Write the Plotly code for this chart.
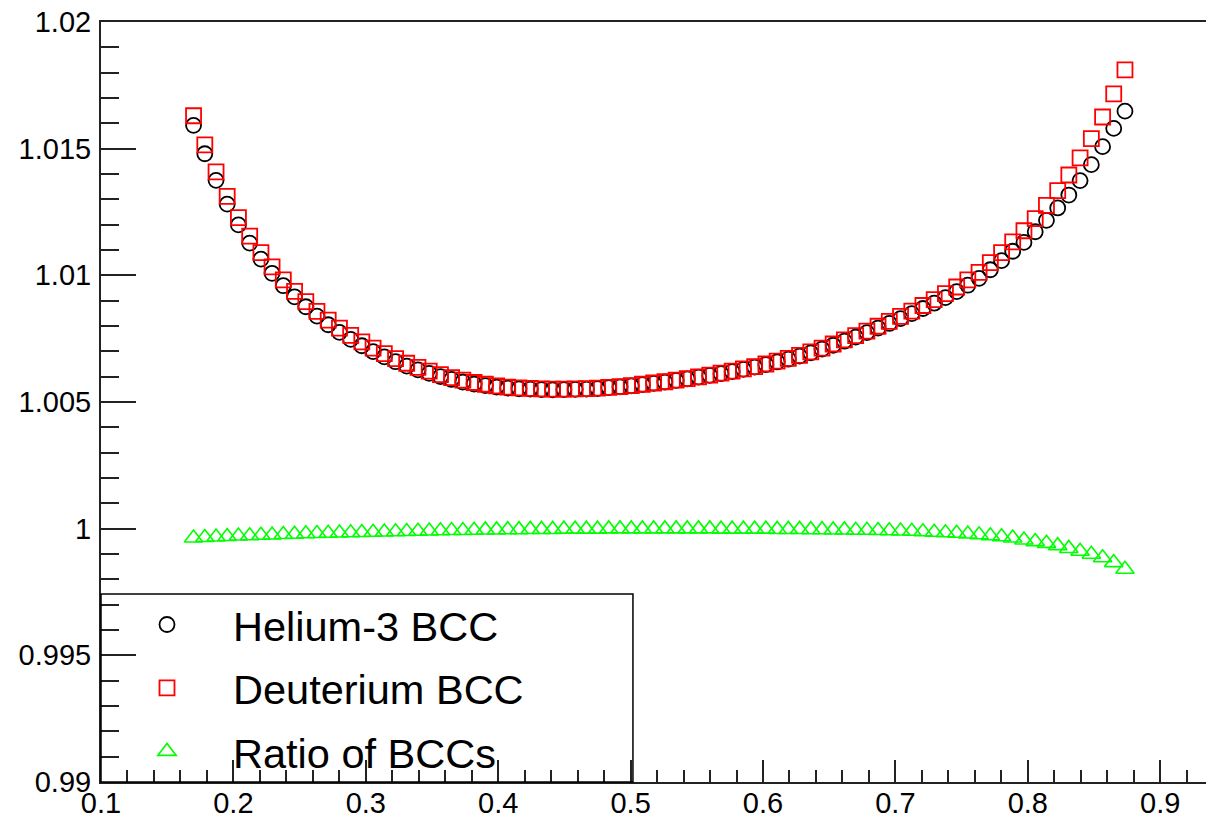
import plotly.graph_objects as go

# ---- data ----
x_vals = [0.1699, 0.1784, 0.1869, 0.1953, 0.2038, 0.2123, 0.2208, 0.2292, 0.2377, 0.2462,
          0.2547, 0.2631, 0.2716, 0.2801, 0.2886, 0.2970, 0.3055, 0.3140, 0.3225, 0.3309,
          0.3394, 0.3479, 0.3564, 0.3648, 0.3733, 0.3818, 0.3903, 0.3988, 0.4072, 0.4157,
          0.4242, 0.4327, 0.4411, 0.4496, 0.4581, 0.4666, 0.4750, 0.4835, 0.4920, 0.5005,
          0.5089, 0.5174, 0.5259, 0.5344, 0.5428, 0.5513, 0.5598, 0.5683, 0.5767, 0.5852,
          0.5937, 0.6022, 0.6107, 0.6191, 0.6276, 0.6361, 0.6446, 0.6530, 0.6615, 0.6700,
          0.6785, 0.6869, 0.6954, 0.7039, 0.7124, 0.7208, 0.7293, 0.7378, 0.7463, 0.7547,
          0.7632, 0.7717, 0.7802, 0.7886, 0.7971, 0.8056, 0.8141, 0.8226, 0.8310, 0.8395,
          0.8480, 0.8565, 0.8649, 0.8734]

helium3_bcc = [1.01592, 1.01480, 1.01375, 1.01281, 1.01199, 1.01127, 1.01064, 1.01008, 1.00959, 1.00915,
               1.00876, 1.00839, 1.00805, 1.00775, 1.00747, 1.00722, 1.00699, 1.00678, 1.00659, 1.00642,
               1.00627, 1.00613, 1.00600, 1.00589, 1.00579, 1.00571, 1.00565, 1.00559, 1.00555, 1.00552,
               1.00551, 1.00549, 1.00548, 1.00549, 1.00550, 1.00551, 1.00553, 1.00557, 1.00560, 1.00564,
               1.00569, 1.00574, 1.00579, 1.00585, 1.00591, 1.00598, 1.00605, 1.00612, 1.00620, 1.00629,
               1.00638, 1.00648, 1.00658, 1.00669, 1.00681, 1.00694, 1.00709, 1.00724, 1.00740, 1.00756,
               1.00774, 1.00792, 1.00810, 1.00829, 1.00849, 1.00869, 1.00890, 1.00912, 1.00936, 1.00961,
               1.00988, 1.01022, 1.01058, 1.01095, 1.01130, 1.01172, 1.01217, 1.01266, 1.01317, 1.01374,
               1.01437, 1.01508, 1.01580, 1.01648]

deuterium_bcc = [1.01630, 1.01515, 1.01408, 1.01312, 1.01228, 1.01155, 1.01090, 1.01033, 1.00982, 1.00937,
                 1.00896, 1.00858, 1.00823, 1.00792, 1.00763, 1.00737, 1.00713, 1.00691, 1.00671, 1.00653,
                 1.00637, 1.00622, 1.00608, 1.00596, 1.00586, 1.00577, 1.00570, 1.00564, 1.00559, 1.00556,
                 1.00554, 1.00552, 1.00551, 1.00551, 1.00552, 1.00553, 1.00555, 1.00558, 1.00561, 1.00565,
                 1.00570, 1.00575, 1.00580, 1.00586, 1.00592, 1.00599, 1.00606, 1.00614, 1.00622, 1.00631,
                 1.00640, 1.00650, 1.00661, 1.00672, 1.00684, 1.00698, 1.00713, 1.00729, 1.00745, 1.00762,
                 1.00780, 1.00799, 1.00818, 1.00838, 1.00859, 1.00881, 1.00904, 1.00928, 1.00954, 1.00982,
                 1.01012, 1.01050, 1.01090, 1.01132, 1.01176, 1.01224, 1.01276, 1.01334, 1.01396, 1.01464,
                 1.01540, 1.01625, 1.01716, 1.01811]

ratio_bcc = [0.99963, 0.99965, 0.99967, 0.99969, 0.99971, 0.99972, 0.99974, 0.99975, 0.99977, 0.99978,
             0.99980, 0.99981, 0.99982, 0.99983, 0.99984, 0.99985, 0.99986, 0.99987, 0.99988, 0.99989,
             0.99990, 0.99991, 0.99992, 0.99993, 0.99993, 0.99994, 0.99995, 0.99995, 0.99996, 0.99996,
             0.99997, 0.99997, 0.99997, 0.99998, 0.99998, 0.99998, 0.99998, 0.99999, 0.99999, 0.99999,
             0.99999, 0.99999, 0.99999, 0.99999, 0.99999, 0.99999, 0.99999, 0.99998, 0.99998, 0.99998,
             0.99998, 0.99998, 0.99997, 0.99997, 0.99997, 0.99996, 0.99996, 0.99995, 0.99995, 0.99994,
             0.99994, 0.99993, 0.99992, 0.99991, 0.99990, 0.99988, 0.99986, 0.99984, 0.99982, 0.99979,
             0.99976, 0.99972, 0.99968, 0.99963, 0.99955, 0.99949, 0.99942, 0.99933, 0.99922, 0.99911,
             0.99899, 0.99885, 0.99866, 0.99840]

series_names = ["Helium-3 BCC", "Deuterium BCC", "Ratio of BCCs"]

x_tickvals = [0.1, 0.2, 0.3, 0.4, 0.5, 0.6, 0.7, 0.8, 0.9]
x_ticktext = ["0.1", "0.2", "0.3", "0.4", "0.5", "0.6", "0.7", "0.8", "0.9"]
y_tickvals = [0.99, 0.995, 1.0, 1.005, 1.01, 1.015, 1.02]
y_ticktext = ["0.99", "0.995", "1", "1.005", "1.01", "1.015", "1.02"]

FONT = "Liberation Sans, Arial, Helvetica, sans-serif"

fig = go.Figure()
fig.add_trace(go.Scatter(
    x=x_vals, y=helium3_bcc, mode="markers", name=series_names[0], legendgroup="a",
    marker=dict(symbol="circle-open", size=15, color="black", line=dict(width=1.8, color="black"))))
fig.add_trace(go.Scatter(
    x=x_vals, y=deuterium_bcc, mode="markers", name=series_names[1], legendgroup="b",
    marker=dict(symbol="square-open", size=15, color="#ff0000", line=dict(width=1.8, color="#ff0000"))))
fig.add_trace(go.Scatter(
    x=x_vals, y=ratio_bcc, mode="markers", name=series_names[2], legendgroup="c",
    marker=dict(symbol="triangle-up-open", size=16, color="#00ff00", line=dict(width=1.6, color="#00ff00"))))

fig.update_layout(
    width=1206, height=820,
    margin=dict(l=101, r=0, t=22, b=38, autoexpand=False),
    paper_bgcolor="white", plot_bgcolor="white",
    font=dict(family=FONT, color="black"),
    showlegend=True,
    legend=dict(
        x=0, y=0.2513, xanchor="left", yanchor="top",
        bgcolor="rgba(0,0,0,0)", borderwidth=0,
        font=dict(family=FONT, size=41.5, color="black"),
        itemwidth=122, tracegroupgap=6.5, traceorder="grouped",
    ),
    shapes=[dict(type="rect", xref="paper", yref="paper", x0=0, x1=0.4814, y0=0, y1=0.2474,
                 line=dict(color="black", width=1.5), fillcolor="rgba(0,0,0,0)")],
)

fig.update_xaxes(
    range=[0.1, 0.9346], showgrid=False, zeroline=False, automargin=False,
    showline=True, linecolor="#222", linewidth=2, mirror=True,
    ticks="inside", ticklen=22, tickwidth=1.5, tickcolor="#222",
    tickvals=x_tickvals, ticktext=x_ticktext, ticklabelstandoff=-6,
    tickfont=dict(family=FONT, size=29, color="black"),
    minor=dict(ticks="inside", ticklen=12, tickwidth=1.5, tickcolor="#222", dtick=0.02, tick0=0.1, showgrid=False),
)
fig.update_yaxes(
    range=[0.99, 1.02], showgrid=False, zeroline=False, automargin=False,
    showline=True, linecolor="#222", linewidth=2, mirror=False,
    ticks="inside", ticklen=35, tickwidth=1.5, tickcolor="#222",
    tickvals=y_tickvals, ticktext=y_ticktext, ticklabelstandoff=2,
    tickfont=dict(family=FONT, size=29, color="black"),
    minor=dict(ticks="inside", ticklen=18, tickwidth=1.5, tickcolor="#222", dtick=0.001, tick0=0.99, showgrid=False),
)

fig.write_html(
    "out.html",
    config={"displayModeBar": False},
    post_script="document.body.style.margin='0';document.body.style.overflow='hidden';",
)
